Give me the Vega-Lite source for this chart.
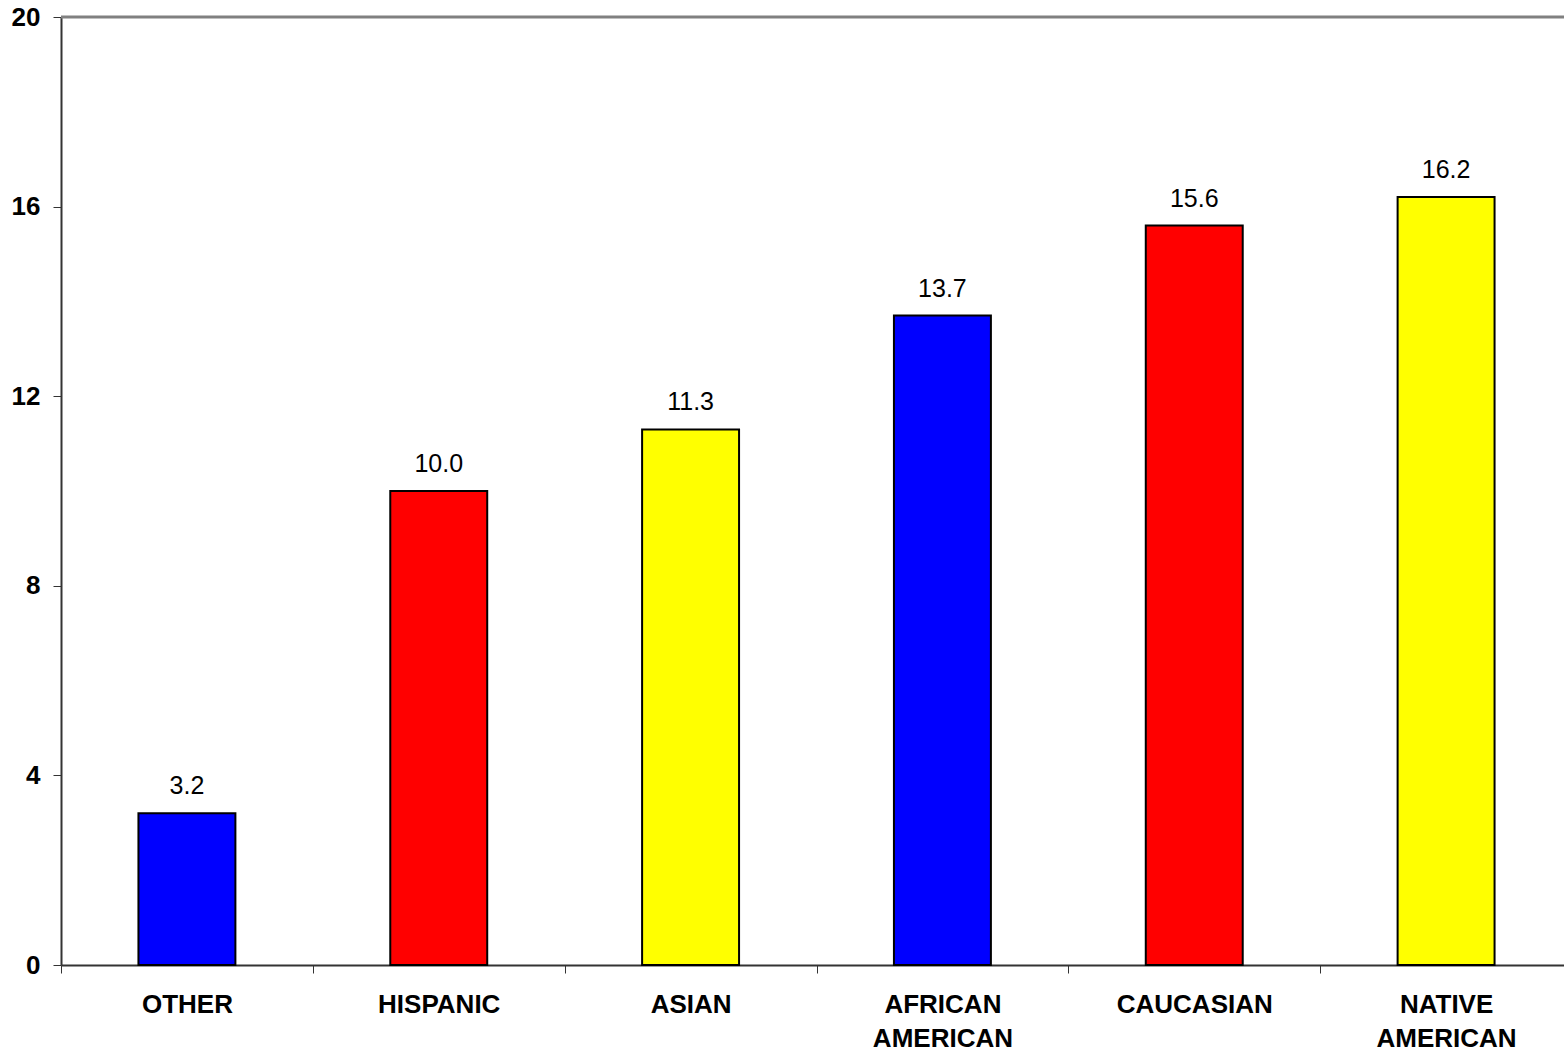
{
  "$schema": "https://vega.github.io/schema/vega-lite/v6.json",
  "width": 1503,
  "height": 948,
  "autosize": {"type": "none"},
  "padding": {"left": 61, "top": 17, "right": 0, "bottom": 89},
  "background": "white",
  "config": {
    "view": {"stroke": null},
    "font": "Liberation Sans"
  },
  "data": {
    "values": [
      {"group": "OTHER", "value": 3.2, "color": "#0000ff"},
      {"group": "HISPANIC", "value": 10.0, "color": "#ff0000"},
      {"group": "ASIAN", "value": 11.3, "color": "#ffff00"},
      {"group": "AFRICAN AMERICAN", "value": 13.7, "color": "#0000ff"},
      {"group": "CAUCASIAN", "value": 15.6, "color": "#ff0000"},
      {"group": "NATIVE AMERICAN", "value": 16.2, "color": "#ffff00"}
    ]
  },
  "encoding": {
    "x": {
      "field": "group",
      "type": "nominal",
      "sort": null,
      "scale": {"range": [0, 1511], "paddingInner": 0.615, "paddingOuter": 0.3075},
      "axis": {
        "title": null,
        "labelAngle": 0,
        "labelFont": "Liberation Sans",
        "labelFontWeight": "bold",
        "labelFontSize": 26,
        "labelColor": "#000000",
        "labelPadding": 18,
        "labelLineHeight": 34,
        "labelExpr": "split(datum.label, ' ')",
        "tickOffset": -125.9,
        "labelOffset": 125.9,
        "tickSize": 8,
        "tickColor": "#333333",
        "tickWidth": 1,
        "domainColor": "#333333",
        "domainWidth": 2,
        "grid": false
      }
    },
    "y": {
      "field": "value",
      "type": "quantitative",
      "scale": {"domain": [0, 20], "nice": false},
      "axis": {
        "title": null,
        "values": [0, 4, 8, 12, 16, 20],
        "labelFont": "Liberation Sans",
        "labelFontWeight": "bold",
        "labelFontSize": 26,
        "labelColor": "#000000",
        "labelPadding": 13,
        "tickSize": 8,
        "tickColor": "#333333",
        "tickWidth": 1,
        "domainColor": "#333333",
        "domainWidth": 2,
        "grid": false
      }
    }
  },
  "layer": [
    {
      "mark": {"type": "bar", "stroke": "#000000", "strokeWidth": 2},
      "encoding": {
        "color": {"field": "color", "type": "nominal", "scale": null}
      }
    },
    {
      "mark": {"type": "text", "baseline": "alphabetic", "dy": -19, "fontSize": 25, "font": "Liberation Sans", "color": "#000000"},
      "encoding": {
        "text": {"field": "value", "type": "quantitative", "format": ".1f"}
      }
    },
    {
      "data": {"values": [{"top": 20}]},
      "mark": {"type": "rule", "color": "#808080", "strokeWidth": 3},
      "encoding": {
        "y": {"field": "top", "type": "quantitative"},
        "x": null
      }
    }
  ]
}
